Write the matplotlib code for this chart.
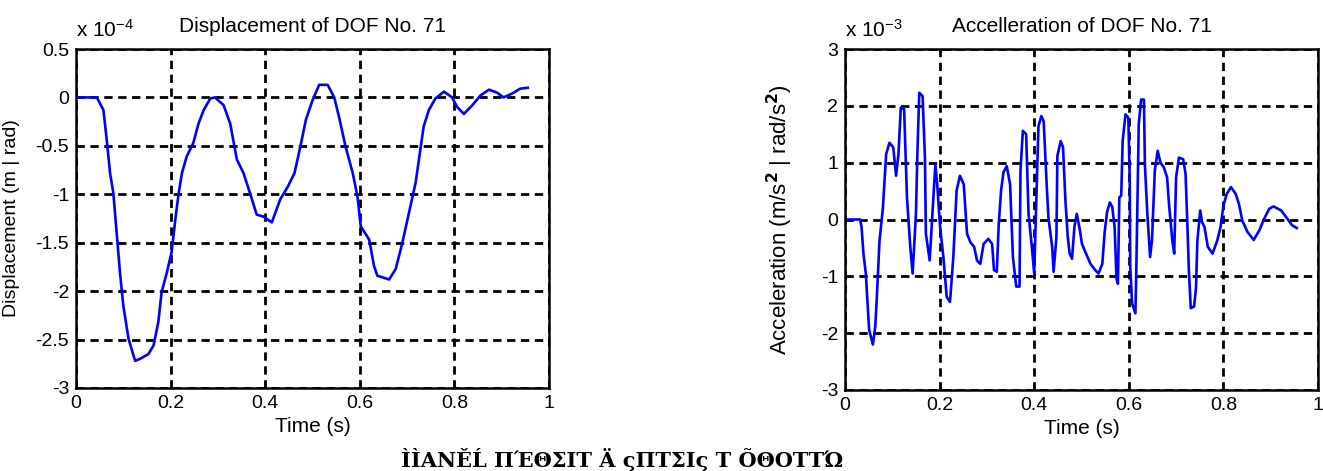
import matplotlib
matplotlib.use("Agg")
from matplotlib import pyplot as plt
import numpy as np

# values (displacement in 1e-4, acceleration in 1e-3)
t_disp = [0.0, 0.044, 0.058, 0.065, 0.072, 0.079, 0.086, 0.093, 0.100, 0.111, 0.125,
          0.135, 0.153, 0.164, 0.174, 0.181, 0.192, 0.202, 0.210, 0.217, 0.224, 0.234,
          0.248, 0.259, 0.270, 0.284, 0.294, 0.312, 0.326, 0.340, 0.354, 0.368, 0.382,
          0.396, 0.414, 0.432, 0.448, 0.462, 0.476, 0.486, 0.500, 0.514, 0.532, 0.546,
          0.556, 0.570, 0.585, 0.595, 0.602, 0.620, 0.630, 0.637, 0.662, 0.676, 0.690,
          0.704, 0.718, 0.728, 0.735, 0.746, 0.760, 0.778, 0.795, 0.806, 0.820, 0.838,
          0.855, 0.873, 0.890, 0.904, 0.922, 0.939, 0.955]
disp = [0.0, 0.0, -0.13, -0.44, -0.78, -0.99, -1.40, -1.81, -2.15, -2.49, -2.72,
        -2.70, -2.65, -2.56, -2.32, -2.01, -1.81, -1.60, -1.26, -0.99, -0.78, -0.61,
        -0.47, -0.27, -0.13, -0.01, 0.0, -0.08, -0.27, -0.64, -0.78, -0.99, -1.21,
        -1.23, -1.29, -1.05, -0.92, -0.78, -0.47, -0.23, -0.03, 0.13, 0.13, 0.0,
        -0.20, -0.51, -0.78, -1.02, -1.33, -1.47, -1.74, -1.84, -1.88, -1.77, -1.50,
        -1.19, -0.88, -0.54, -0.30, -0.13, -0.01, 0.06, 0.0, -0.10, -0.17, -0.08,
        0.02, 0.08, 0.05, 0.0, 0.04, 0.09, 0.10]

t_acc = [0.0, 0.032, 0.035, 0.039, 0.044, 0.051, 0.059, 0.064, 0.067, 0.073, 0.080,
         0.087, 0.094, 0.102, 0.108, 0.113, 0.118, 0.125, 0.131, 0.138, 0.143, 0.150,
         0.153, 0.157, 0.164, 0.169, 0.171, 0.179, 0.184, 0.191, 0.195, 0.201, 0.208,
         0.215, 0.222, 0.229, 0.236, 0.243, 0.251, 0.258, 0.265, 0.273, 0.279, 0.286,
         0.293, 0.303, 0.311, 0.315, 0.321, 0.325, 0.330, 0.335, 0.342, 0.349, 0.355,
         0.362, 0.369, 0.371, 0.376, 0.383, 0.388, 0.395, 0.400, 0.406, 0.409, 0.415,
         0.420, 0.426, 0.430, 0.438, 0.441, 0.447, 0.449, 0.456, 0.461, 0.466, 0.471,
         0.475, 0.480, 0.485, 0.490, 0.496, 0.501, 0.508, 0.519, 0.529, 0.536, 0.544,
         0.549, 0.554, 0.560, 0.565, 0.570, 0.574, 0.577, 0.580, 0.584, 0.587, 0.593,
         0.599, 0.602, 0.603, 0.607, 0.614, 0.616, 0.621, 0.626, 0.632, 0.634, 0.639,
         0.645, 0.649, 0.655, 0.661, 0.667, 0.674, 0.681, 0.685, 0.692, 0.696, 0.700,
         0.706, 0.715, 0.720, 0.724, 0.727, 0.731, 0.738, 0.742, 0.745, 0.751, 0.755,
         0.760, 0.767, 0.777, 0.787, 0.794, 0.800, 0.807, 0.816, 0.826, 0.833, 0.840,
         0.851, 0.864, 0.876, 0.886, 0.897, 0.906, 0.922, 0.932, 0.945, 0.955]
acc = [0.0, 0.0, -0.13, -0.60, -0.95, -1.94, -2.20, -1.88, -1.42, -0.37, 0.19,
       1.15, 1.35, 1.27, 0.77, 1.15, 1.97, 1.94, 0.39, -0.48, -0.95, 0.10,
       1.15, 2.23, 2.17, 1.09, -0.25, -0.72, -0.02, 0.97, 0.62, -0.13, -0.66,
       -1.36, -1.45, -0.66, 0.51, 0.77, 0.62, -0.25, -0.40, -0.48, -0.72, -0.78,
       -0.43, -0.34, -0.43, -0.89, -0.92, -0.08, 0.51, 0.83, 0.94, 0.62, -0.66,
       -1.18, -1.18, 0.86, 1.56, 1.50, 0.10, -0.48, -0.95, 0.80, 1.64, 1.82,
       1.73, 0.68, 0.04, -0.48, -0.92, -0.31, 1.12, 1.38, 1.27, 0.33, -0.31,
       -0.60, -0.69, -0.13, 0.10, -0.16, -0.43, -0.57, -0.78, -0.89, -0.95, -0.78,
       -0.22, 0.13, 0.30, 0.22, -0.13, -1.04, -1.13, 0.39, 0.42, 1.38, 1.85,
       1.79, 0.68, -0.83, -1.48, -1.65, -0.83, 1.67, 2.11, 2.11, 0.97, 0.13,
       -0.66, -0.37, 0.86, 1.21, 1.00, 0.92, 0.74, 0.27, -0.37, -0.60, 0.74,
       1.09, 1.06, 0.80, -0.13, -0.89, -1.56, -1.53, -1.21, -0.37, 0.16, -0.05,
       -0.13, -0.48, -0.60, -0.37, -0.13, 0.24, 0.45, 0.57, 0.45, 0.27, -0.02,
       -0.22, -0.36, -0.19, 0.01, 0.19, 0.23, 0.16, 0.05, -0.10, -0.15]

xticks = [0, 0.2, 0.4, 0.6, 0.8, 1]
xlabels = ['0', '0.2', '0.4', '0.6', '0.8', '1']
disp_ticks = [0.5, 0, -0.5, -1, -1.5, -2, -2.5, -3]
disp_labels = ['0.5', '0', '-0.5', '-1', '-1.5', '-2', '-2.5', '-3']
acc_ticks = [3, 2, 1, 0, -1, -2, -3]
acc_labels = ['3', '2', '1', '0', '-1', '-2', '-3']

plt.rcParams['font.family'] = ['Liberation Sans', 'DejaVu Sans']
plt.rcParams['mathtext.fontset'] = 'custom'
plt.rcParams['mathtext.rm'] = 'Liberation Sans'
plt.rcParams['mathtext.it'] = 'Liberation Sans:italic'
fs = 14

fig = plt.figure(figsize=(13.23, 4.71), dpi=100)
ax1 = fig.add_axes([76/1323, 83/471, 473/1323, 339/471])
ax2 = fig.add_axes([845/1323, 81/471, 473/1323, 341/471])


def style(ax, yt, yl, ylim):
    ax.set_xlim(0, 1)
    ax.set_ylim(*ylim)
    ax.set_xticks(xticks)
    ax.set_xticklabels(xlabels, fontsize=fs)
    ax.set_yticks(yt)
    ax.set_yticklabels(yl, fontsize=fs)
    ax.grid(True, color='black', linestyle=(0, (3, 2)), linewidth=2.0)
    ax.tick_params(direction='in', length=4, width=1, pad=5)
    for s in ax.spines.values():
        s.set_linewidth(1.8)
    ax.set_xlabel('Time (s)', fontsize=fs + 1, labelpad=4)


ax1.plot(t_disp, disp, color='#0000ff', linewidth=1.9)
style(ax1, disp_ticks, disp_labels, (-3, 0.5))
ax1.set_ylabel('Displacement (m | rad)', fontsize=fs)
ax1.yaxis.set_label_coords(-0.118, 0.5)
ax1.set_title('Displacement of DOF No. 71', fontsize=fs + 1, pad=12)
ax1.text(0.0, 1.025, 'x 10$^{-4}$', transform=ax1.transAxes, fontsize=fs + 1,
         ha='left', va='bottom')

ax2.plot(t_acc, acc, color='#0000ff', linewidth=1.9)
style(ax2, acc_ticks, acc_labels, (-3, 3))
ax2.set_ylabel(r'Acceleration (m/s$^{\mathbf{2}}$ | rad/s$^{\mathbf{2}}$)', fontsize=fs + 2)
ax2.yaxis.set_label_coords(-0.105, 0.5)
ax2.set_title('Accelleration of DOF No. 71', fontsize=fs + 1, pad=12)
ax2.text(0.0, 1.025, 'x 10$^{-3}$', transform=ax2.transAxes, fontsize=fs + 1,
         ha='left', va='bottom')

# caption at the bottom of the page
fig.text(0.47, 0.0, 'ÌÌΑΝĚĹ ΠΈΘΣΙΤ Ä ςΠΤΣΙς Τ ÕΘΟΤΤΏ', fontsize=15,
         family='DejaVu Serif', fontweight='bold', ha='center', va='bottom')

fig.savefig('out.png', dpi=100)
